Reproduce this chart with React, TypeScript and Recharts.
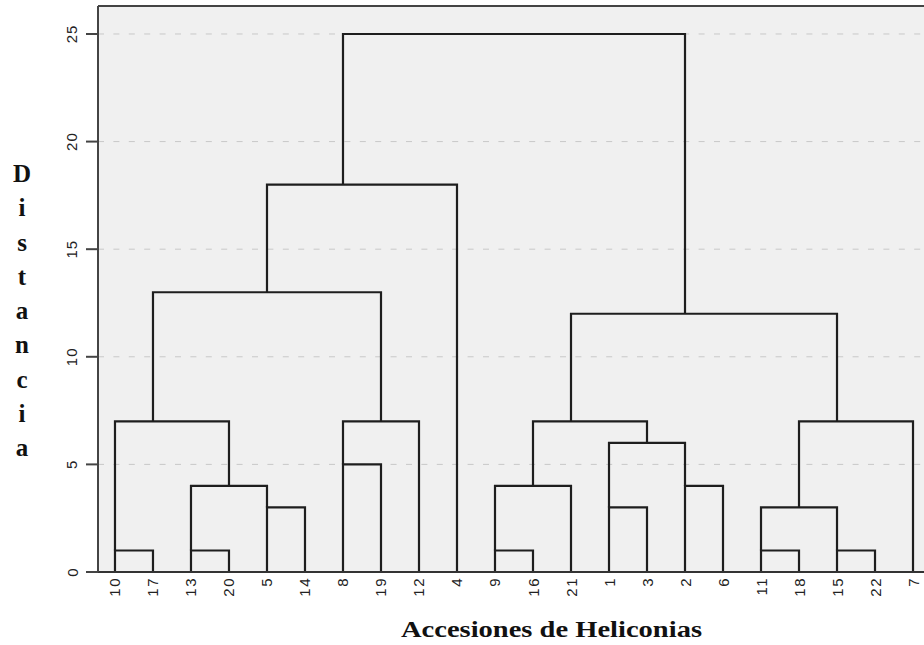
import React from "react";
import { LineChart, Line, XAxis, YAxis, CartesianGrid, ReferenceLine } from "recharts";

// Leaf order along the x axis
const leaves = ["10","17","13","20","5","14","8","19","12","4","9","16","21","1","3","2","6","11","18","15","22","7"];

// Merges m1..m21 (children: leaf labels or merge names)
const mergeLeft = ["10","13","5","m2","m1","8","m6","m5","m8","9","m10","1","2","m12","m11","11","15","m16","m18","m15","m9"];
const mergeRight = ["17","20","14","m3","m4","19","12","m7","4","16","21","3","6","m13","m14","18","22","m17","7","m19","m20"];
const mergeHeights = [1,1,3,4,7,5,7,13,18,1,4,3,4,6,7,1,1,3,7,12,25];
// Position (in leaf-index units) of each merge's upward stem
const mergeStems = [0,2,4,3,1,6,7,4,6,10,11,13,15,14,12,17,19,18,19,15,15];

const yTicks = [0,5,10,15,20,25];
const titleLetters = ["D","i","s","t","a","n","c","i","a"];

const nodePos = (id: string): number =>
  id.startsWith("m") ? mergeStems[parseInt(id.slice(1)) - 1] : leaves.indexOf(id);
const nodeHeight = (id: string): number =>
  id.startsWith("m") ? mergeHeights[parseInt(id.slice(1)) - 1] : 0;

const links = mergeHeights.map((h, i) => {
  const l = mergeLeft[i];
  const r = mergeRight[i];
  return [
    { x: nodePos(l), y: nodeHeight(l) },
    { x: nodePos(l), y: h },
    { x: nodePos(r), y: h },
    { x: nodePos(r), y: nodeHeight(r) },
  ];
});

const XTick = (props: any) => {
  const { x, y, payload } = props;
  return (
    <text
      x={x}
      y={y}
      transform={`rotate(-90, ${x}, ${y})`}
      textAnchor="end"
      dominantBaseline="central"
      fontFamily="Liberation Sans, Arial, sans-serif"
      fontSize={15}
      letterSpacing={1.5}
      fill="#222"
    >
      {leaves[payload.value]}
    </text>
  );
};

const YTick = (props: any) => {
  const { x, y, payload } = props;
  const cx = x - 12;
  return (
    <text
      x={cx}
      y={y}
      transform={`rotate(-90, ${cx}, ${y})`}
      textAnchor="middle"
      dominantBaseline="central"
      fontFamily="Liberation Sans, Arial, sans-serif"
      fontSize={15}
      letterSpacing={1}
      fill="#222"
    >
      {payload.value}
    </text>
  );
};

export default function App() {
  return (
    <div style={{ position: "absolute", left: 0, top: 0, width: 924, height: 645, overflow: "hidden", background: "#fff" }}>
      <LineChart
        width={930}
        height={645}
        margin={{ top: 6, right: 0, left: 58, bottom: 43 }}
      >
        <CartesianGrid
          horizontal={true}
          vertical={false}
          fill="#f0f0f0"
          stroke="#c8c8c8"
          strokeDasharray="6 9.4"
          horizontalValues={[5, 10, 15, 20, 25]}
        />
        <XAxis
          type="number"
          dataKey="x"
          domain={[-0.447, 21.447]}
          ticks={leaves.map((_, i) => i)}
          allowDataOverflow
          interval={0}
          height={30}
          tickLine={false}
          tickSize={3}
          axisLine={{ stroke: "#333", strokeWidth: 2 }}
          tick={<XTick />}
        />
        <YAxis
          type="number"
          domain={[0, 26.3]}
          ticks={yTicks}
          allowDataOverflow
          width={40}
          tickSize={12}
          tickLine={{ stroke: "#444", strokeWidth: 2 }}
          axisLine={{ stroke: "#444", strokeWidth: 2 }}
          tick={<YTick />}
        />
        <ReferenceLine y={26.3} stroke="#444" strokeWidth={2} ifOverflow="visible" />
        {links.map((pts, i) => (
          <Line
            key={i}
            data={pts}
            dataKey="y"
            type="linear"
            stroke="#1e1e1e"
            strokeWidth={2.2}
            dot={false}
            activeDot={false}
            isAnimationActive={false}
          />
        ))}
      </LineChart>
      <svg width={924} height={645} style={{ position: "absolute", left: 0, top: 0, pointerEvents: "none" }}>
        {titleLetters.map((ch, i) => (
          <text
            key={i}
            x={22}
            y={182 + i * 34.25}
            textAnchor="middle"
            fontFamily="Liberation Serif, Times New Roman, serif"
            fontWeight="bold"
            fontSize={25}
            fill="#111"
          >
            {ch}
          </text>
        ))}
        <text
          x={401}
          y={637}
          textLength={301}
          lengthAdjust="spacingAndGlyphs"
          fontFamily="Liberation Serif, Times New Roman, serif"
          fontWeight="bold"
          fontSize={23}
          fill="#111"
        >
          Accesiones de Heliconias
        </text>
      </svg>
    </div>
  );
}
